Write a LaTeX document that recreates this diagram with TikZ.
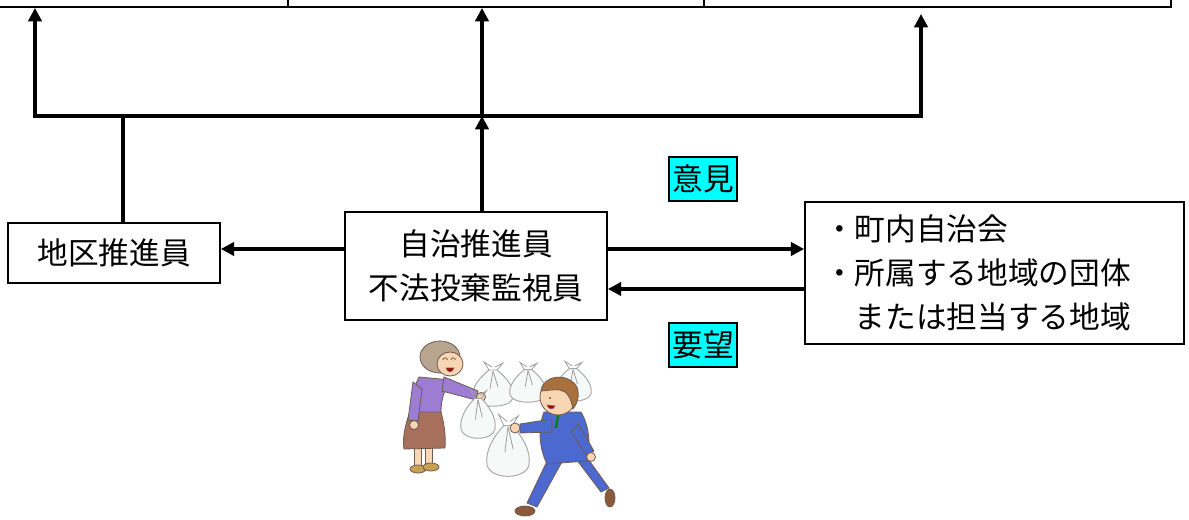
\documentclass[tikz,border=0pt]{standalone}
\usepackage{fontspec}
\newfontfamily\jpfont{Noto Sans CJK JP}
\usetikzlibrary{arrows.meta}

\definecolor{tagcyan}{rgb}{0,1,1}
\definecolor{hairgray}{HTML}{B8A58F}
\definecolor{skin}{HTML}{F8D6B4}
\definecolor{blouse}{HTML}{9C7DD2}
\definecolor{skirt}{HTML}{A86F5C}
\definecolor{shoeY}{HTML}{C9A155}
\definecolor{suit}{HTML}{4C69D0}
\definecolor{hairbrown}{HTML}{A8703C}
\definecolor{shoeB}{HTML}{8A5A3A}
\definecolor{bagwhite}{HTML}{F5F9F8}
\definecolor{outl}{HTML}{6E5A50}

\begin{document}
\begin{tikzpicture}[x=0.75pt,y=-0.75pt,
  jp/.style={font=\jpfont\fontsize{23}{33}\selectfont},
  box/.style={draw, line width=1.3pt, jp, inner sep=0pt},
  ln/.style={line width=2.4pt},
  arr/.style={ln, -{Triangle[length=10pt,width=10pt]}},
  tag/.style={draw, line width=1.2pt, fill=tagcyan, jp, minimum width=51pt,
    minimum height=33pt, inner sep=0pt},
  ol/.style={draw=outl, line width=0.6pt},
  bag/.pic={
    \filldraw[draw=gray!70, fill=bagwhite, line width=0.7pt]
      (-4,-16) .. controls (-14,-8) and (-22,2) .. (-20,12)
      .. controls (-17,23) and (17,23) .. (20,12)
      .. controls (22,2) and (14,-8) .. (4,-16) -- cycle;
    \draw[gray!75, line width=0.6pt] (-4,-16) -- (-9,-24) -- (-1,-19)
      (4,-16) -- (10,-23) -- (2,-19) (0,-15) -- (-3,3) (0,-15) -- (5,1);
  }]
\useasboundingbox (0,0) rectangle (1189,520);

% row of the table above
\draw[line width=1.3pt] (0,7) -- (1171,7) -- (1171,0);
\draw[line width=1.3pt] (288,0) -- (288,7) (704,0) -- (704,7);

% boxes
\node[box, minimum width=159pt, minimum height=45pt] (chiku) at (114,253) {地区推進員};
\node[box, minimum width=196.5pt, minimum height=81pt, align=center] (jichi) at (476,266)
  {自治推進員\\不法投棄監視員};
\node[box, minimum height=106.5pt, text width=255.75pt, inner xsep=14.25pt, align=left]
  (chiiki) at (994.5,273)
  {・町内自治会\\・所属する地域の団体\\\phantom{・}または担当する地域};

% labels
\node[tag] (iken) at (703,179) {意見};
\node[tag] (yobo) at (703,345) {要望};

% reference points of the upper bus
\coordinate (busL) at (35,116);
\coordinate (busA) at (123,116);
\coordinate (busM) at (482,116);
\coordinate (busR) at (921,116);
\coordinate (topL) at (35,8);
\coordinate (topM) at (482,8);
\coordinate (topR) at (921,14);
\coordinate (rowA) at (0,249);
\coordinate (rowB) at (0,289);

% connectors
\draw[ln, {Triangle[length=10pt,width=10pt]}-{Triangle[length=10pt,width=10pt]}]
  (topL) -- (busL) -- (busR) -- (topR);
\draw[ln] (chiku.north -| busA) -- (busA);
\draw[arr] (jichi.north -| busM) -- (busM);
\draw[arr] (busM) -- (topM);
\draw[arr] (jichi.west |- rowA) -- (chiku.east |- rowA);
\draw[arr] (jichi.east |- rowA) -- (chiiki.west |- rowA);
\draw[arr] (chiiki.west |- rowB) -- (jichi.east |- rowB);

% illustration: bags in the back
\pic[scale=1.0] at (493,386) {bag};
\pic[scale=0.9] at (528,384) {bag};
\pic[scale=0.9] at (573,383) {bag};

% the woman
\filldraw[ol, fill=skin] (414,444) rectangle (421,466) (425,444) rectangle (432,465);
\filldraw[ol, fill=shoeY] (418,469) ellipse [x radius=8, y radius=4];
\filldraw[ol, fill=shoeY] (431,467) ellipse [x radius=8, y radius=4];
\filldraw[ol, fill=skirt] (411,409) .. controls (405,424) and (402,440) .. (404,449)
  -- (445,448) .. controls (446,436) and (444,421) .. (440,409) -- cycle;
\filldraw[ol, fill=blouse] (419,377) .. controls (412,392) and (410,402) .. (411,412)
  -- (441,412) .. controls (441,400) and (444,390) .. (451,380) -- cycle;
\filldraw[ol, fill=blouse] (413,382) -- (408,420) -- (418,421) -- (422,389) -- cycle;
\filldraw[ol, fill=skin] (414,425) circle (4.5);
\filldraw[ol, fill=blouse] (444,377) -- (478,391) -- (476,400) -- (442,391) -- cycle;
\filldraw[ol, fill=skin] (481,397) circle (4.5);
\filldraw[ol, fill=hairgray] (440,357) ellipse [x radius=20, y radius=16];
\filldraw[ol, fill=skin] (450,364) ellipse [x radius=13, y radius=12];
\draw[outl, line width=0.6pt] (443,360) arc (180:360:2.2) (451,360) arc (180:360:2.2);
\filldraw[draw=outl, fill=red!70!black, line width=0.4pt] (446,368) .. controls (448,373) and (452,373) .. (454,368) -- cycle;

% bag held by the woman
\pic[xscale=0.85, yscale=1.1] at (478,416) {bag};

% the man
\filldraw[ol, fill=suit] (573,455) -- (601,492) -- (609,488) -- (583,452) -- cycle;
\filldraw[ol, fill=shoeB] (610,498) ellipse [x radius=5, y radius=9];
\filldraw[ol, fill=suit] (550,455) -- (527,503) -- (537,507) -- (563,460) -- cycle;
\filldraw[ol, fill=shoeB] (525,511) ellipse [x radius=10, y radius=5];
\filldraw[ol, fill=suit] (544,412) .. controls (537,430) and (540,450) .. (547,464)
  -- (587,461) .. controls (591,445) and (589,425) .. (581,412) -- cycle;
\draw[green!50!black, line width=1.6pt] (558,415) -- (556,428);
\filldraw[ol, fill=suit] (578,424) -- (594,451) -- (587,456) -- (571,432) -- cycle;
\filldraw[ol, fill=skin] (591,457) circle (4.5);
\filldraw[ol, fill=skin] (558,397) circle (18);
\filldraw[ol, fill=hairbrown] (541,391) .. controls (542,376) and (567,371) .. (577,387)
  .. controls (580,396) and (577,404) .. (573,409) .. controls (571,398) and (567,391) .. (560,390)
  .. controls (553,389) and (546,391) .. (541,391) -- cycle;
\fill[outl] (550,398) circle (1.2);
\filldraw[draw=outl, fill=red!70!black, line width=0.4pt] (547,405) .. controls (549,410) and (553,410) .. (555,406) -- cycle;

% bag held by the man
\pic[xscale=1.05, yscale=1.4] at (508,448) {bag};
\filldraw[ol, fill=suit] (552,419) -- (520,424) -- (520,433) -- (552,432) -- cycle;
\filldraw[ol, fill=skin] (515,428) circle (5);
\end{tikzpicture}
\end{document}
